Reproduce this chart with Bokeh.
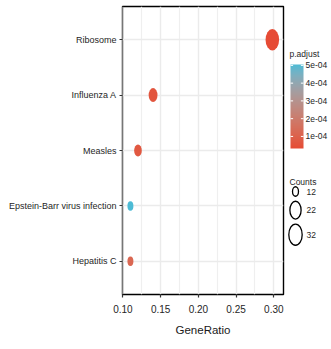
import numpy as np
from bokeh.plotting import figure
from bokeh.models import (FactorRange, Range1d, FixedTicker, LinearColorMapper,
                          ColumnDataSource, CustomJSTickFormatter)
from bokeh.layouts import row
from bokeh.transform import transform
from bokeh.embed import file_html
from bokeh.resources import INLINE
from bokeh.core.properties import value

# ---------------- data ----------------
categories = ["Ribosome", "Influenza A", "Measles", "Epstein-Barr virus infection", "Hepatitis C"]
gene_ratio = [0.298, 0.14, 0.12, 0.11, 0.11]
counts = [33, 15, 13, 12, 12]
p_adjust = [3.2e-5, 6.0e-5, 7.0e-5, 5.05e-4, 1.2e-4]
x_ticks = [0.10, 0.15, 0.20, 0.25, 0.30]
cbar_ticks = [1e-4, 2e-4, 3e-4, 4e-4, 5e-4]
size_breaks = [12, 22, 32]

FONT = "'Liberation Sans', Arial, sans-serif"
TXT = "#262626"
LOW_COL, HIGH_COL = "#E64B35", "#4DBBD5"
H = 349
TOP, BOTTOM = 6, 294   # panel top / bottom (page px)

# ---------------- colour scale (Lab interpolation like ggplot) ----------------
M = np.array([[0.4124564, 0.3575761, 0.1804375],
              [0.2126729, 0.7151522, 0.0721750],
              [0.0193339, 0.1191920, 0.9503041]])
Minv = np.linalg.inv(M)
WHITE = M @ np.ones(3)

def _hex(h):
    return np.array([int(h[i:i + 2], 16) for i in (1, 3, 5)]) / 255.0

def _lin(c):
    return np.where(c <= 0.04045, c / 12.92, ((c + 0.055) / 1.055) ** 2.4)

def _gam(c):
    c = np.clip(c, 0, None)
    return np.where(c <= 0.0031308, 12.92 * c, 1.055 * np.power(c, 1 / 2.4) - 0.055)

def _f(t):
    d = 6 / 29
    return np.where(t > d ** 3, np.cbrt(t), t / (3 * d * d) + 4 / 29)

def _finv(t):
    d = 6 / 29
    return np.where(t > d, t ** 3, 3 * d * d * (t - 4 / 29))

def rgb2lab(rgb):
    fx, fy, fz = _f((M @ _lin(rgb)) / WHITE)
    return np.array([116 * fy - 16, 500 * (fx - fy), 200 * (fy - fz)])

def lab2hex(lab):
    L, a, b = lab
    fy = (L + 16) / 116
    xyz = _finv(np.array([fy + a / 500, fy, fy - b / 200])) * WHITE
    rgb = np.clip(_gam(Minv @ xyz), 0, 1)
    return "#%02x%02x%02x" % tuple(int(round(v * 255)) for v in rgb)

lab_lo, lab_hi = rgb2lab(_hex(LOW_COL)), rgb2lab(_hex(HIGH_COL))
palette = [lab2hex(lab_lo + (lab_hi - lab_lo) * t) for t in np.linspace(0, 1, 256)]
p_lo, p_hi = min(p_adjust), max(p_adjust)
mapper = LinearColorMapper(palette=palette, low=p_lo, high=p_hi)

# ---------------- size scale ----------------
cmin, cmax = min(counts), max(counts)
DMIN, DMAX, ASPECT = 9.5, 21.5, 0.63

def size_h(c):
    t = np.clip((np.asarray(c, float) - cmin) / (cmax - cmin), 0, 1)
    return DMIN + (DMAX - DMIN) * np.sqrt(t)

hs = size_h(counts)
src = ColumnDataSource(dict(cat=categories, ratio=gene_ratio, p=p_adjust,
                            h=list(hs), w=list(hs * ASPECT)))

# ---------------- main panel ----------------
p = figure(width=287, height=H,
           x_range=Range1d(0.0995, 0.3128),
           y_range=FactorRange(factors=categories[::-1], range_padding=0.1,
                               range_padding_units="absolute"),
           output_backend="svg", toolbar_location=None,
           min_border_left=122, min_border_right=4, min_border_top=TOP,
           min_border_bottom=H - BOTTOM)
p.background_fill_color = "white"
p.border_fill_color = "white"
p.outline_line_color = "black"
p.outline_line_width = 1.4

p.xgrid.ticker = FixedTicker(ticks=x_ticks,
                             minor_ticks=[(a + b) / 2 for a, b in zip(x_ticks[:-1], x_ticks[1:])])
p.xgrid.grid_line_color = "#EBEBEB"
p.xgrid.grid_line_width = 1.4
p.xgrid.minor_grid_line_color = "#EFEFEF"
p.xgrid.minor_grid_line_width = 1.2
p.ygrid.grid_line_color = "#EBEBEB"
p.ygrid.grid_line_width = 1.4

p.ellipse(x="ratio", y="cat", width="w", height="h", width_units="screen",
          height_units="screen", source=src, fill_color=transform("p", mapper),
          line_color=None)

p.xaxis.ticker = FixedTicker(ticks=x_ticks)
p.xaxis.formatter = CustomJSTickFormatter(code="return tick.toFixed(2)")
p.xaxis.axis_label = "GeneRatio"
for ax in (p.xaxis[0], p.yaxis[0]):
    ax.axis_line_color = None
    ax.major_tick_line_color = "#333333"
    ax.major_tick_line_width = 1.2
    ax.major_tick_out = 3
    ax.major_tick_in = 0
    ax.minor_tick_line_color = None
    ax.major_label_text_font = FONT
    ax.major_label_text_color = TXT
p.yaxis.major_label_text_font_size = "9px"
p.xaxis.major_label_text_font_size = "10px"
p.yaxis.major_label_standoff = 3
p.xaxis.major_label_standoff = 7
p.xaxis.axis_label_text_font = FONT
p.xaxis.axis_label_text_font_size = "11.5px"
p.xaxis.axis_label_text_font_style = "normal"
p.xaxis.axis_label_text_color = "#1a1a1a"
p.xaxis.axis_label_standoff = 8

# ---------------- legend panel (data y = H - page y) ----------------
LW = 44
lg = figure(width=LW, height=H, x_range=Range1d(0, LW), y_range=Range1d(H - BOTTOM, H - TOP),
            output_backend="svg", toolbar_location=None,
            min_border_left=0, min_border_right=0, min_border_top=TOP,
            min_border_bottom=H - BOTTOM,
            x_axis_location=None, y_axis_location=None)
lg.outline_line_color = None
lg.grid.visible = False
lg.background_fill_color = "white"

# colour bar (gradient + white ticks + labels)
BX, BW, BTOP, BH = 3, 13, 64, 84
bar_bottom = H - (BTOP + BH)
grad = np.linspace(p_lo, p_hi, 256).reshape(256, 1)
lg.image(image=[grad], x=BX, y=bar_bottom, dw=BW, dh=BH, color_mapper=mapper)

def bar_y(v):
    return bar_bottom + (np.asarray(v, float) - p_lo) / (p_hi - p_lo) * BH

tys = list(bar_y(cbar_ticks))
tick_len = BW / 5
lg.segment(x0=[BX] * len(tys), x1=[BX + tick_len] * len(tys), y0=tys, y1=tys,
           line_color="white", line_width=1)
lg.segment(x0=[BX + BW - tick_len] * len(tys), x1=[BX + BW] * len(tys), y0=tys, y1=tys,
           line_color="white", line_width=1)
lg.text(x=[BX + BW + 2] * len(tys), y=tys, text=["%.0e" % v for v in cbar_ticks],
        text_font=value(FONT), text_font_size="8.5px", text_baseline="middle",
        text_color=TXT)
lg.text(x=[2], y=[H - 53], text=["p.adjust"], text_font=value(FONT), text_font_size="8.5px",
        text_baseline="middle", text_color=TXT)

# size legend
lh = size_h(size_breaks)
gap = 5.0
ys = [191.0]
for i in range(1, len(lh)):
    ys.append(ys[-1] + lh[i - 1] / 2 + lh[i] / 2 + gap)
ys_d = [H - y for y in ys]
lsrc = ColumnDataSource(dict(y=ys_d, x=[8] * len(ys), h=list(lh), w=list(lh * ASPECT),
                             lab=[str(b) for b in size_breaks], lx=[19] * len(ys)))
lg.ellipse(x="x", y="y", width="w", height="h", width_units="screen", height_units="screen",
           source=lsrc, fill_color=None, line_color="black", line_width=1.3)
lg.text(x="lx", y="y", text="lab", source=lsrc, text_font=value(FONT),
        text_font_size="8.5px", text_baseline="middle", text_color=TXT)
lg.text(x=[2], y=[H - 181], text=["Counts"], text_font=value(FONT), text_font_size="8.5px",
        text_baseline="middle", text_color=TXT)

layout = row(p, lg)
open("out.html", "w").write(file_html(layout, INLINE))
